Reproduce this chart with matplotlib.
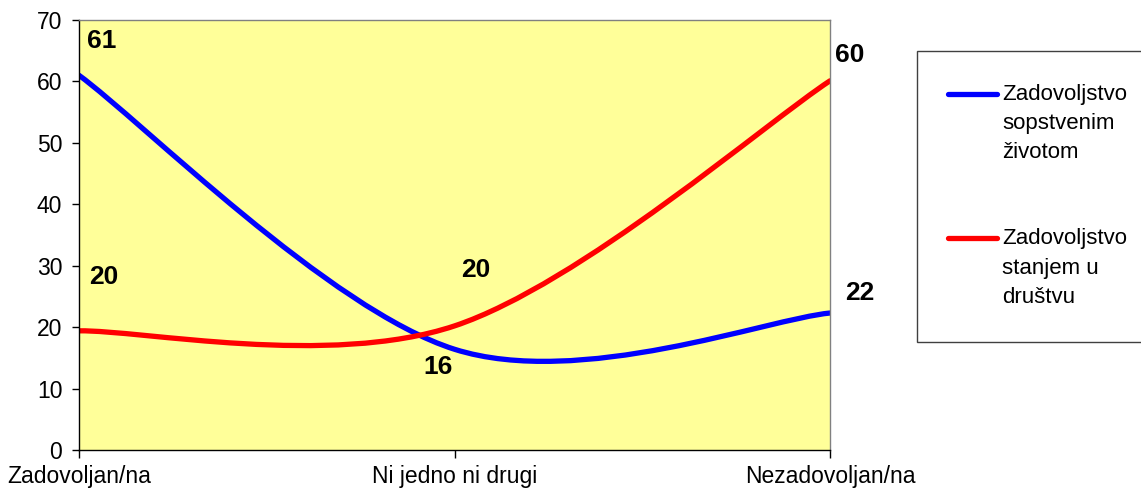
import matplotlib.pyplot as plt
import numpy as np
from matplotlib.path import Path
from matplotlib.patches import PathPatch, Rectangle
from matplotlib.lines import Line2D

plt.rcParams['font.family'] = ['Liberation Sans', 'DejaVu Sans']

categories = ["Zadovoljan/na", "Ni jedno ni drugi", "Nezadovoljan/na"]
zivot = [61, 16.4, 22.3]
drustvo = [19.4, 20.2, 60.1]
zivot_labels = ["61", "16", "22"]
drustvo_labels = ["20", "20", "60"]
legend_zivot = ["Zadovoljstvo", "sopstvenim", "životom"]
legend_drustvo = ["Zadovoljstvo", "stanjem u", "društvu"]


def smooth_path(xs, ys):
    # Excel-like smoothed line: bezier segments, catmull-rom control points
    pts = np.column_stack([xs, ys]).astype(float)
    n = len(pts)
    verts = [pts[0]]
    codes = [Path.MOVETO]
    for i in range(n - 1):
        p_prev = pts[max(i - 1, 0)]
        p0 = pts[i]
        p1 = pts[i + 1]
        p_next = pts[min(i + 2, n - 1)]
        c1 = p0 + (p1 - p_prev) / 6
        c2 = p1 - (p_next - p0) / 6
        verts += [c1, c2, p1]
        codes += [Path.CURVE4] * 3
    return Path(verts, codes)


fig = plt.figure(figsize=(11.41, 4.95), dpi=100)
ax = fig.add_axes([79 / 1141, 45 / 495, 751 / 1141, 430 / 495])
ax.set_facecolor("#FFFF99")

x = np.arange(len(categories))
for vals, col in [(zivot, "#0000FF"), (drustvo, "#FF0000")]:
    ax.add_patch(PathPatch(smooth_path(x, vals), fill=False, edgecolor=col,
                           lw=3.8, capstyle="round", joinstyle="round"))

ax.set_xlim(0, 2)
ax.set_ylim(0, 70)
ax.set_yticks(range(0, 71, 10))
ax.set_xticks(x)
ax.set_xticklabels(categories)
ax.tick_params(axis="y", direction="out", length=5, width=1, pad=7, labelsize=16.5)
ax.tick_params(axis="x", direction="out", length=6, width=1, pad=5, labelsize=16.5)
for s in ["top", "right"]:
    ax.spines[s].set_color("#808080")
    ax.spines[s].set_linewidth(1)
for s in ["left", "bottom"]:
    ax.spines[s].set_color("black")
    ax.spines[s].set_linewidth(1)

# data labels, offsets in points
zivot_off = [(16, 25), (-12, -13), (21.5, 14.5)]
drustvo_off = [(18, 39), (15.5, 40), (14.5, 18.7)]
for i in range(3):
    ax.annotate(zivot_labels[i], (x[i], zivot[i]), xytext=zivot_off[i],
                textcoords="offset points", ha="center", va="center",
                fontsize=19, fontweight="bold", annotation_clip=False)
    ax.annotate(drustvo_labels[i], (x[i], drustvo[i]), xytext=drustvo_off[i],
                textcoords="offset points", ha="center", va="center",
                fontsize=19, fontweight="bold", annotation_clip=False)

# legend drawn by hand to keep the handle on the first text line
W, H = 1141, 495
fig.patches.append(Rectangle((917 / W, (H - 342) / H), 230 / W, 291 / H,
                             transform=fig.transFigure, facecolor="white",
                             edgecolor="#404040", lw=1))
for lines, col, base in [(legend_zivot, "#0000FF", [100, 129, 158]),
                         (legend_drustvo, "#FF0000", [244, 274, 303])]:
    yl = (H - (base[0] - 6)) / H
    fig.lines.append(Line2D([948 / W, 997 / W], [yl, yl], transform=fig.transFigure,
                            color=col, lw=3.8, solid_capstyle="round"))
    for t, b in zip(lines, base):
        fig.text(1002 / W, (H - b) / H, t, fontsize=16, va="baseline", ha="left")

fig.savefig("out.png", dpi=100)
